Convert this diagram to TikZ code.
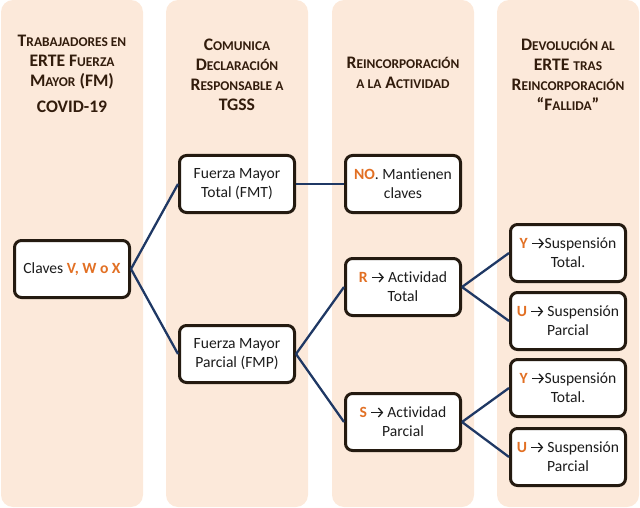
\documentclass[tikz,border=0pt]{standalone}
\usepackage{fontspec}
\usetikzlibrary{arrows.meta}
\setmainfont{Carlito}[Ligatures=NoCommon]
\definecolor{colbg}{RGB}{252,233,218}
\definecolor{hdr}{RGB}{50,28,12}
\definecolor{orng}{RGB}{226,112,36}
\definecolor{edgec}{RGB}{31,56,100}
\definecolor{nbord}{RGB}{36,26,16}
\definecolor{txt}{RGB}{28,28,28}
\newcommand\smc[1]{{\fontsize{13.4}{13}\selectfont #1}}
\newcommand\hl[1]{\textbf{\textcolor{orng}{#1}}}
\newcommand\arr{\tikz[baseline=0pt,x=1pt,y=1pt]{\path (0,0) -- (13,0); \draw[txt,line width=1.3pt,-{Straight Barb[length=4pt,width=9pt,line width=1.3pt]}] (0.5,5.5) -- (12.5,5.5);}}
\tikzset{
  colbox/.style={fill=colbg, rounded corners=12pt},
  box/.style={draw=nbord, line width=3pt, rounded corners=7pt, fill=white,
    minimum width=115pt, minimum height=57pt, inner sep=2pt, align=center,
    font=\fontsize{15.6}{18.8}\selectfont, text=txt},
  link/.style={draw=edgec, line width=2.3pt},
  hdrtxt/.style={font=\bfseries\fontsize{17.6}{19.8}\selectfont, text=hdr,
    align=center, inner sep=0pt, anchor=north}
}
\begin{document}
\begin{tikzpicture}[x=1pt,y=-1pt]
\useasboundingbox (0,0) rectangle (640,508);
\fill[colbox] (1,0) rectangle (143,507);
\fill[colbox] (166,0) rectangle (308,507);
\fill[colbox] (332,0) rectangle (474,507);
\fill[colbox] (497,0) rectangle (639,507);

\node[hdrtxt] (h1) at (72,35) {T\smc{RABAJADORES EN}\\ERTE F\smc{UERZA}\\M\smc{AYOR} (FM)\\[6pt]COVID-19};
\node[hdrtxt] (h2) at (237,39) {C\smc{OMUNICA}\\D\smc{ECLARACIÓN}\\R\smc{ESPONSABLE A}\\TGSS};
\node[hdrtxt] (h3) at (403,57) {R\smc{EINCORPORACIÓN}\\\smc{A LA} A\smc{CTIVIDAD}};
\node[hdrtxt] (h4) at (568,39) {D\smc{EVOLUCIÓN AL}\\ERTE \smc{TRAS}\\R\smc{EINCORPORACIÓN}\\“F\smc{ALLIDA}”};

\node[box] (cl) at (72,269) {Claves \hl{V, W o X}};
\node[box] (fmt) at (237,184) {Fuerza Mayor\\Total (FMT)};
\node[box] (fmp) at (237,354) {Fuerza Mayor\\Parcial (FMP)};
\node[box] (no) at (403,184) {\hl{NO}. Mantienen\\claves};
\node[box] (r) at (403,287) {\hl{R} \arr{} Actividad\\Total};
\node[box] (s) at (403,422) {\hl{S} \arr{} Actividad\\Parcial};
\node[box] (y1) at (568,253) {\hl{Y} \arr{}Suspensión\\Total.};
\node[box] (u1) at (568,321) {\hl{U} \arr{} Suspensión\\Parcial};
\node[box] (y2) at (568,388) {\hl{Y} \arr{}Suspensión\\Total.};
\node[box] (u2) at (568,457) {\hl{U} \arr{} Suspensión\\Parcial};

\draw[link] (cl.east) -- (fmt.west);
\draw[link] (cl.east) -- (fmp.west);
\draw[link] (fmt.east) -- (no.west);
\draw[link] (fmp.east) -- (r.west);
\draw[link] (fmp.east) -- (s.west);
\draw[link] (r.east) -- (y1.west);
\draw[link] (r.east) -- (u1.west);
\draw[link] (s.east) -- (y2.west);
\draw[link] (s.east) -- (u2.west);
\end{tikzpicture}
\end{document}
